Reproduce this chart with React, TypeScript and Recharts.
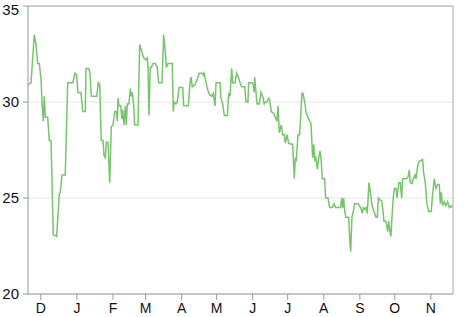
import React from "react";
import { LineChart, Line, XAxis, YAxis, CartesianGrid, ReferenceLine } from "recharts";

// day index (0 = ~Nov 20) and value
const days: number[] = [
  0, 2.6, 5.4, 6.9, 8.3, 9.7, 11.2, 12.0, 13.1, 14.0, 14.9, 16.9, 18.3, 19.8, 21.7, 24.6, 26.9, 27.7, 29.2, 32.0,
  34.1, 38.4, 40.4, 41.8, 42.9, 45.5, 47.0, 49.2, 49.8, 52.1, 53.2, 54.4, 59.0, 60.4, 61.6, 62.9, 64.4, 65.3, 66.4, 67.2,
  68.7, 70.2, 71.5, 73.0, 74.5, 75.8, 76.7, 77.3, 78.1, 79.6, 80.7, 81.3, 82.4, 83.6, 84.4, 85.3, 86.7, 87.9, 88.7, 89.6,
  90.8, 91.6, 94.5, 95.9, 97.3, 99.4, 101.1, 102.5, 103.1, 103.9, 105.0, 105.9, 107.3, 109.3, 111.0, 112.2, 115.1, 116.5, 117.9, 118.8,
  120.2, 123.9, 124.8, 125.6, 127.1, 128.2, 129.7, 132.9, 133.7, 137.7, 139.1, 140.0, 141.1, 143.4, 145.4, 147.1, 149.4, 150.6, 151.2, 152.6,
  154.0, 155.7, 157.8, 159.1, 160.6, 161.5, 164.9, 165.7, 167.2, 168.6, 171.2, 172.4, 173.5, 174.9, 175.8, 177.8, 179.2, 180.6, 182.1, 183.5,
  186.1, 187.2, 188.9, 189.5, 192.4, 193.5, 194.1, 194.7, 195.8, 196.7, 198.6, 200.1, 201.6, 202.9, 203.8, 205.2, 206.7, 207.6, 208.9, 211.0,
  212.4, 213.8, 214.7, 215.8, 217.5, 218.7, 220.1, 221.0, 222.4, 223.9, 226.1, 227.3, 228.7, 229.6, 230.4, 231.9, 233.3, 234.2, 235.3, 236.2,
  237.6, 239.0, 240.5, 241.9, 243.0, 244.5, 245.4, 246.2, 247.1, 248.5, 249.4, 250.8, 251.9, 252.7, 254.8, 255.6, 257.6, 259.1, 261.3, 262.8,
  264.2, 268.5, 269.4, 270.3, 271.1, 272.0, 273.1, 275.4, 276.5, 277.1, 278.2, 279.4, 280.5, 283.4, 285.7, 287.1, 288.0, 289.2, 290.5, 291.4,
  292.8, 294.3, 295.2, 297.1, 298.9, 300.0, 300.9, 302.3, 303.8, 304.9, 305.7, 307.2, 308.0, 308.9, 309.8, 310.9, 311.7, 312.6, 313.7, 314.6,
  316.0, 316.9, 318.4, 319.7, 320.9, 321.8, 324.6, 326.1, 327.5, 328.3, 329.8, 330.9, 332.4, 333.2, 334.7, 336.0, 338.9, 339.8, 341.2, 342.6,
  344.1, 346.3, 347.5, 348.9, 350.4, 351.8, 353.2, 354.1, 354.9, 356.1, 357.5, 359.0, 360.4, 361.8, 363.3, 364.1,
];

const values: number[] = [
  30.9, 31.0, 33.5, 33.0, 32.0, 32.0, 31.2, 30.0, 29.0, 30.3, 29.2, 29.2, 28.0, 28.0, 23.1, 23.0, 25.2, 25.3, 26.2, 26.2,
  31.0, 31.0, 31.5, 31.4, 30.5, 30.5, 29.5, 29.5, 31.75, 31.75, 31.5, 30.3, 30.3, 31.0, 30.9, 28.0, 28.0, 27.2, 27.1, 27.9,
  27.9, 25.8, 28.7, 28.8, 29.5, 29.5, 29.0, 30.2, 29.8, 29.8, 29.1, 29.6, 28.8, 29.8, 28.8, 29.9, 29.9, 30.7, 30.3, 30.5,
  29.8, 28.8, 28.8, 33.0, 32.7, 32.3, 32.2, 32.3, 31.8, 29.3, 31.8, 31.8, 32.0, 32.0, 31.8, 31.0, 31.0, 33.5, 32.6, 31.8,
  32.0, 32.0, 29.5, 30.0, 29.9, 30.0, 30.75, 30.75, 29.8, 29.8, 31.0, 31.3, 30.8, 30.9, 31.2, 31.5, 31.5, 31.4, 31.5, 31.1,
  30.7, 30.4, 30.3, 30.45, 29.8, 31.0, 31.0, 30.2, 29.9, 29.3, 29.3, 30.45, 30.3, 31.75, 31.0, 31.0, 31.5, 31.3, 31.0, 30.8,
  30.8, 30.0, 30.0, 31.0, 31.0, 30.9, 30.5, 31.3, 30.5, 29.9, 29.9, 30.5, 30.3, 29.9, 30.0, 30.0, 30.2, 30.1, 29.5, 29.4,
  29.2, 29.0, 29.8, 28.4, 28.8, 28.3, 28.3, 27.85, 28.3, 27.85, 27.8, 27.8, 26.0, 27.1, 27.0, 28.3, 28.3, 29.3, 30.45, 30.45,
  30.0, 29.4, 29.2, 29.0, 28.9, 27.1, 27.8, 27.0, 27.1, 26.5, 27.0, 27.45, 26.9, 26.0, 26.0, 25.0, 25.0, 24.5, 24.5, 24.7,
  24.5, 24.5, 25.0, 24.5, 25.0, 24.3, 24.0, 24.0, 22.7, 22.2, 24.0, 24.3, 24.7, 24.7, 24.5, 24.2, 24.5, 24.4, 24.5, 24.2,
  25.8, 25.2, 24.7, 24.3, 24.0, 24.0, 25.0, 24.9, 24.85, 24.3, 23.8, 23.8, 23.6, 23.25, 23.8, 23.25, 23.0, 24.0, 25.0, 25.5,
  25.5, 25.0, 25.8, 25.8, 25.0, 26.0, 26.0, 26.05, 26.45, 25.8, 25.75, 26.0, 26.2, 26.0, 26.7, 26.9, 27.0, 26.3, 25.8, 24.7,
  24.3, 24.3, 25.2, 26.0, 25.5, 25.7, 25.7, 24.7, 25.3, 24.6, 24.8, 24.6, 24.8, 24.5, 24.6, 24.5,
];

const monthTicks: number[] = [11, 42, 73, 101, 132, 162, 193, 223, 254, 285, 315, 346];
const monthLabels: string[] = ["D", "J", "F", "M", "A", "M", "J", "J", "A", "S", "O", "N"];
const yTicks: number[] = [20, 25, 30, 35];

const data = days.map((d, i) => ({ day: d, value: values[i] }));

const font = "'Liberation Sans', Arial, Helvetica, sans-serif";

const YTick = (props: any) => {
  const { x, y, payload } = props;
  const isTop = payload && payload.value === yTicks[yTicks.length - 1];
  return (
    <text
      x={x}
      y={y}
      dy={isTop ? 8.5 : 5.3}
      textAnchor="end"
      fill="#111"
      fontSize={15}
      fontFamily={font}
    >
      {payload.value}
    </text>
  );
};

export default function App() {
  return (
    <div style={{ position: "absolute", left: 0, top: 0 }}>
      <LineChart
        width={466}
        height={317}
        data={data}
        margin={{ top: 6, right: 13, bottom: 0, left: 0 }}
      >
        <CartesianGrid horizontal={true} vertical={false} stroke="#e6e6e6" />
        <XAxis
          dataKey="day"
          type="number"
          domain={[0, 365]}
          ticks={monthTicks}
          tickFormatter={(v: number) => monthLabels[monthTicks.indexOf(v)] ?? ""}
          height={23}
          tickSize={6}
          tickMargin={3}
          stroke="#999"
          tick={{ fill: "#111", fontSize: 14, fontFamily: font }}
          interval={0}
        />
        <YAxis
          type="number"
          domain={[20, 35]}
          ticks={yTicks}
          width={28}
          tickSize={5}
          tickMargin={4}
          stroke="#999"
          tick={<YTick />}
          interval={0}
        />
        <ReferenceLine y={35} stroke="#aaa" />
        <ReferenceLine x={365} stroke="#aaa" />
        <Line
          type="linear"
          dataKey="value"
          stroke="#78c46e"
          strokeWidth={1.5}
          dot={false}
          isAnimationActive={false}
        />
      </LineChart>
    </div>
  );
}
